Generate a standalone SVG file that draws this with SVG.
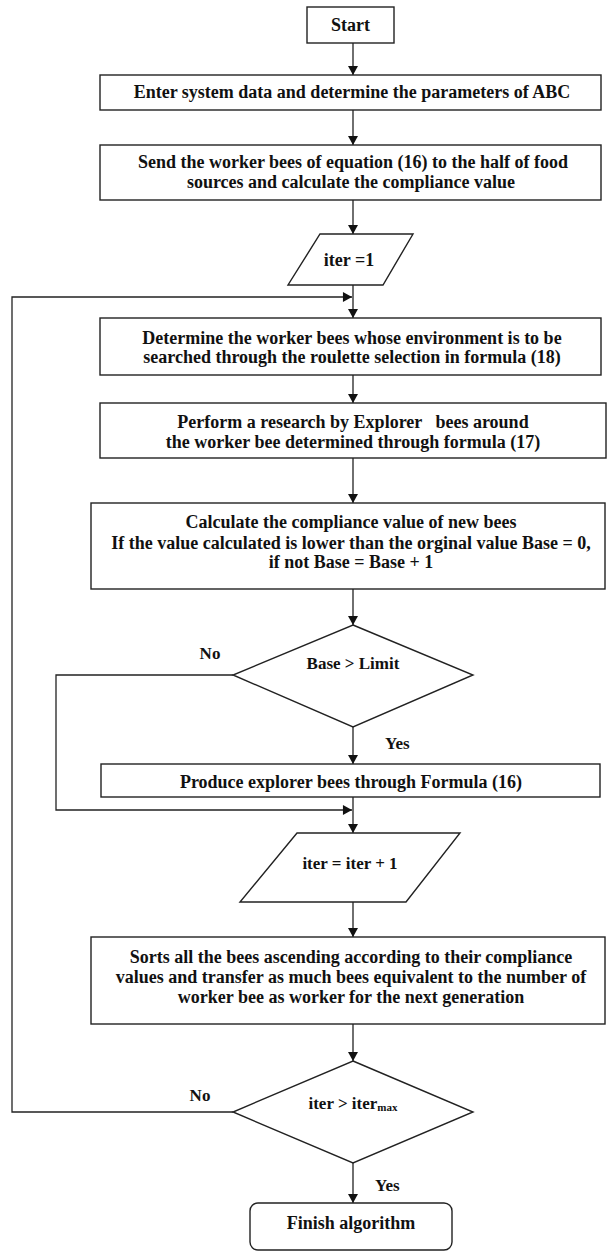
<svg xmlns="http://www.w3.org/2000/svg" width="608" height="1252" viewBox="0 0 608 1252">
<style>
.s{fill:#fff;stroke:#222;stroke-width:1.4}
.c{fill:none;stroke:#222;stroke-width:1.3}
text{font-family:"Liberation Serif","Times New Roman",serif;font-weight:bold;font-size:18px;fill:#111;text-anchor:middle;white-space:pre}
.l{text-anchor:start;font-size:17px}
.n{font-size:17px}
</style>
<defs>
<marker id="a" viewBox="0 0 10 11" refX="10" refY="5.5" markerWidth="11" markerHeight="10" markerUnits="userSpaceOnUse" orient="auto">
<path d="M0,0 L10,5.5 L0,11 Z" fill="#111"/>
</marker>
</defs>
<rect width="608" height="1252" fill="#fff"/>
<g id="connectors">
<line class="c" x1="353" y1="43" x2="353" y2="75" marker-end="url(#a)"/>
<line class="c" x1="353" y1="110" x2="353" y2="145" marker-end="url(#a)"/>
<line class="c" x1="353" y1="200" x2="353" y2="234" marker-end="url(#a)"/>
<line class="c" x1="353" y1="285" x2="353" y2="318" marker-end="url(#a)"/>
<line class="c" x1="353" y1="375" x2="353" y2="403" marker-end="url(#a)"/>
<line class="c" x1="353" y1="458" x2="353" y2="503" marker-end="url(#a)"/>
<line class="c" x1="353" y1="589" x2="353" y2="625" marker-end="url(#a)"/>
<line class="c" x1="353" y1="727" x2="353" y2="764" marker-end="url(#a)"/>
<line class="c" x1="353" y1="797" x2="353" y2="833" marker-end="url(#a)"/>
<line class="c" x1="353" y1="902" x2="353" y2="937" marker-end="url(#a)"/>
<line class="c" x1="353" y1="1024" x2="353" y2="1061" marker-end="url(#a)"/>
<line class="c" x1="353" y1="1163" x2="353" y2="1203" marker-end="url(#a)"/>
<polyline class="c" points="233,1112 12,1112 12,297 352,297" marker-end="url(#a)"/>
<polyline class="c" points="233,675 56,675 56,810 352,810" marker-end="url(#a)"/>
<text class="n" x="210" y="659">No</text>
<text class="l" x="385" y="749">Yes</text>
<text class="n" x="200" y="1101">No</text>
<text class="l" x="375" y="1191">Yes</text>
</g>
<g id="start">
<rect class="s" x="307" y="7" width="87" height="36"/>
<text x="350.5" y="31">Start</text>
</g>
<g id="enter">
<rect class="s" x="100" y="75" width="501" height="35"/>
<text x="352" y="98">Enter system data and determine the parameters of ABC</text>
</g>
<g id="send">
<rect class="s" x="100" y="145" width="501" height="55"/>
<text x="353" y="168">Send the worker bees of equation (16) to the half of food</text>
<text x="351" y="188">sources and calculate the compliance value</text>
</g>
<g id="iter1">
<polygon class="s" points="320,234 413,234 383,285 288,285"/>
<text x="349" y="266">iter =1</text>
</g>
<g id="determine">
<rect class="s" x="100" y="318" width="501" height="57"/>
<text x="352" y="344">Determine the worker bees whose environment is to be</text>
<text x="352" y="363">searched through the roulette selection in formula (18)</text>
</g>
<g id="perform">
<rect class="s" x="100" y="403" width="506" height="55"/>
<text x="353" y="428">Perform a research by Explorer   bees around</text>
<text x="353" y="448">the worker bee determined through formula (17)</text>
</g>
<g id="calculate">
<rect class="s" x="91" y="503" width="514" height="86"/>
<text x="351" y="528">Calculate the compliance value of new bees</text>
<text x="351" y="549">If the value calculated is lower than the orginal value Base = 0,</text>
<text x="351" y="568">if not Base = Base + 1</text>
</g>
<g id="baseLimit">
<polygon class="s" points="353,625 473,675 353,727 233,675"/>
<text class="n" x="353" y="669">Base &gt; Limit</text>
</g>
<g id="produce">
<rect class="s" x="101" y="764" width="499" height="33"/>
<text x="351" y="788">Produce explorer bees through Formula (16)</text>
</g>
<g id="iterInc">
<polygon class="s" points="297,833 460,833 406,902 240,902"/>
<text class="n" x="350" y="869">iter = iter + 1</text>
</g>
<g id="sorts">
<rect class="s" x="91" y="937" width="514" height="87"/>
<text x="351" y="963">Sorts all the bees ascending according to their compliance</text>
<text x="351" y="983">values and transfer as much bees equivalent to the number of</text>
<text x="351" y="1003">worker bee as worker for the next generation</text>
</g>
<g id="iterMax">
<polygon class="s" points="353,1061 473,1112 353,1163 233,1112"/>
<text class="n" x="353" y="1109">iter &gt; iter<tspan font-size="11" dy="2">max</tspan></text>
</g>
<g id="finish">
<rect class="s" x="250" y="1203" width="202" height="47" rx="8"/>
<text x="351" y="1229">Finish algorithm</text>
</g>
</svg>
